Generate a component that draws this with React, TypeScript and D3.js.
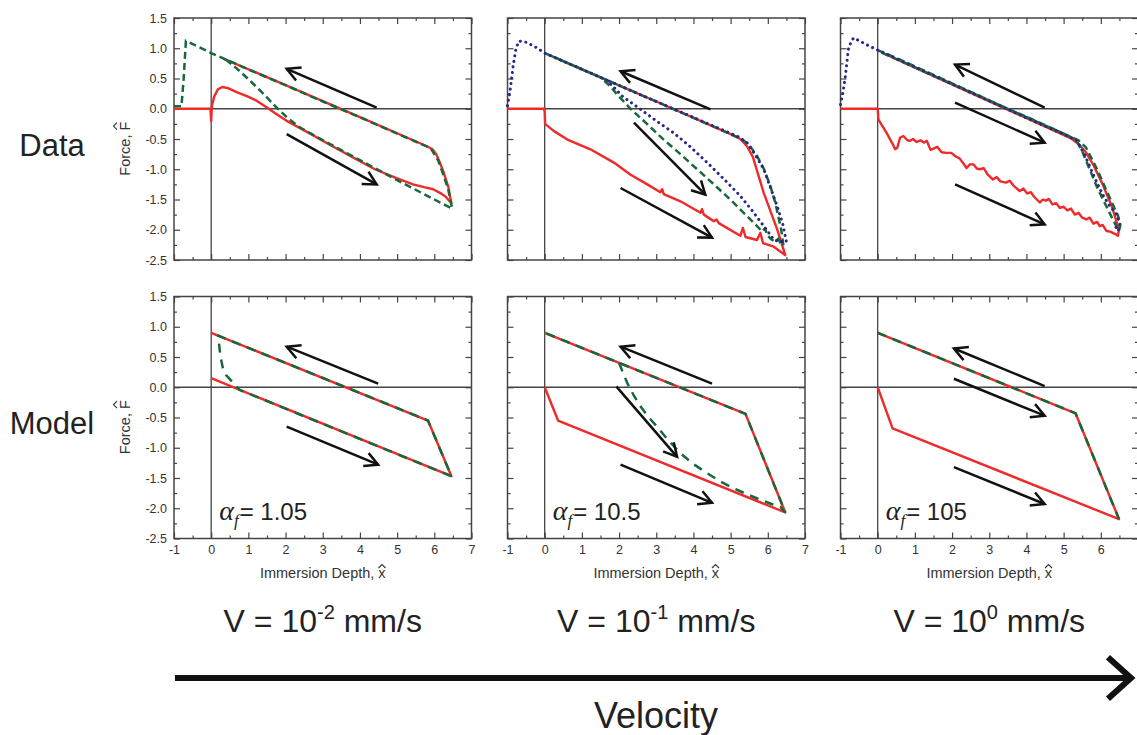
import React, { useRef, useEffect } from "react";
import * as d3 from "d3";

type Pt = [number, number];
type Arrow = [number, number, number, number];

const xTicks = [-1, 0, 1, 2, 3, 4, 5, 6, 7];
const yTicks = [-2.5, -2, -1.5, -1, -0.5, 0, 0.5, 1, 1.5];
const rowNames = ["Data", "Model"];
const speedExponents = ["-2", "-1", "0"];
const alphaValues = ["1.05", "10.5", "105"];

// ---- Data row, V = 1e-2 mm/s
const data1Red: Pt[] = [
  [-1, 0], [-0.02, 0], [0, -0.2], [0.02, 0.05], [0.08, 0.2], [0.18, 0.32], [0.3, 0.36], [0.45, 0.34],
  [0.7, 0.27], [0.96, 0.21], [1.23, 0.13], [1.5, 0.02], [1.76, -0.09], [2.03, -0.2], [2.6, -0.39],
  [3.2, -0.6], [3.8, -0.8], [4.4, -1.0], [5.0, -1.15], [5.43, -1.25], [5.75, -1.3], [5.97, -1.33],
  [6.15, -1.39], [6.3, -1.45], [6.46, -1.56], [6.38, -1.3], [6.25, -1.05], [6.15, -0.89],
  [6.05, -0.75], [5.95, -0.67], [5.8, -0.62], [4.0, -0.14], [2.0, 0.39], [0.33, 0.83],
];
const data1Green: Pt[] = [
  [-1, 0.04], [-0.8, 0.04], [-0.74, 0.5], [-0.68, 1.12], [-0.4, 1.04], [0, 0.92], [1, 0.65],
  [2, 0.39], [3, 0.12], [4, -0.14], [5, -0.41], [5.9, -0.65], [6.1, -0.85], [6.25, -1.1],
  [6.38, -1.35], [6.48, -1.65], [6, -1.5], [5, -1.18], [4, -0.85], [3, -0.52], [2.39, -0.31],
  [2.05, -0.15], [1.76, 0.02], [1.4, 0.25], [1.05, 0.46], [0.7, 0.66], [0.38, 0.82],
];
const data1Arrows: Arrow[] = [[4.45, 0.02, 2.03, 0.66], [2.03, -0.42, 4.45, -1.25]];

// ---- Data row, V = 1e-1 mm/s
const data2Red: Pt[] = [
  [-1, 0], [-0.02, 0], [0, -0.05], [0.01, -0.25], [0.25, -0.37], [0.61, -0.51], [1.23, -0.67],
  [1.86, -0.89], [2.31, -1.09], [2.76, -1.25], [3.11, -1.38], [3.16, -1.33], [3.2, -1.41],
  [3.65, -1.53], [4.19, -1.72], [4.23, -1.66], [4.28, -1.75], [4.55, -1.86], [4.62, -1.83],
  [4.68, -1.89], [5.26, -2.1], [5.33, -1.97], [5.4, -2.12], [5.71, -2.17], [5.8, -2.05],
  [5.87, -2.22], [6.16, -2.28], [6.47, -2.42], [6.25, -1.99], [5.89, -1.39], [5.6, -0.8],
  [5.44, -0.62], [5.26, -0.5], [5.0, -0.42], [3, 0.12], [1, 0.65], [0.3, 0.84],
];
const data2Green: Pt[] = [
  [0, 0.92], [1.5, 0.52], [1.75, 0.38], [2.0, 0.2], [2.31, 0.0], [2.75, -0.25], [3.2, -0.51],
  [3.65, -0.75], [4.1, -1.0], [4.55, -1.25], [4.99, -1.5], [5.35, -1.72], [5.71, -1.94],
  [5.85, -2.03], [5.92, -1.98], [6.0, -2.1], [6.1, -2.16], [6.2, -2.2], [6.28, -2.15],
  [6.34, -2.22], [6.42, -2.26], [6.36, -2.0], [6.2, -1.55], [6.07, -1.28], [5.9, -1.0],
  [5.71, -0.78], [5.5, -0.6], [5.3, -0.5], [3, 0.12], [0, 0.92],
];
const data2Navy: Pt[] = [
  [-1, 0.05], [-0.93, 0.3], [-0.85, 0.7], [-0.77, 1.0], [-0.69, 1.12], [-0.5, 1.1],
  [-0.25, 1.02], [0, 0.92], [1.68, 0.47], [2.1, 0.2], [2.58, -0.01], [3.0, -0.2], [3.47, -0.4],
  [3.9, -0.62], [4.37, -0.89], [4.8, -1.15], [5.26, -1.44], [5.6, -1.7], [5.89, -1.94],
  [6.16, -2.16], [6.3, -2.2], [6.43, -2.19], [6.5, -2.2], [6.4, -1.9], [6.25, -1.61],
  [6.07, -1.3], [5.89, -1.0], [5.65, -0.75], [5.44, -0.56], [5.2, -0.46], [3, 0.12], [1.68, 0.47],
];
const data2Arrows: Arrow[] = [
  [4.46, -0.01, 2.04, 0.62], [2.4, -0.23, 4.32, -1.42], [2.04, -1.31, 4.5, -2.13],
];

// ---- Data row, V = 1e0 mm/s
const data3Red: Pt[] = [
  [-1, 0], [0, 0], [0.02, -0.18], [0.24, -0.4], [0.4, -0.58], [0.47, -0.67], [0.53, -0.64],
  [0.6, -0.48], [0.69, -0.45], [0.8, -0.52], [0.87, -0.53], [0.95, -0.5], [1.05, -0.55],
  [1.15, -0.52], [1.25, -0.56], [1.32, -0.53], [1.42, -0.68], [1.5, -0.66], [1.6, -0.63],
  [1.72, -0.72], [1.85, -0.73], [1.98, -0.73], [2.1, -0.79], [2.2, -0.82], [2.3, -0.9],
  [2.39, -0.98], [2.48, -0.92], [2.58, -0.92], [2.67, -0.99], [2.75, -1.0], [2.85, -0.98],
  [2.95, -1.08], [3.1, -1.17], [3.2, -1.13], [3.3, -1.2], [3.45, -1.22], [3.55, -1.19],
  [3.65, -1.27], [3.82, -1.36], [3.92, -1.32], [4.02, -1.4], [4.12, -1.38], [4.2, -1.45],
  [4.36, -1.55], [4.44, -1.5], [4.52, -1.52], [4.6, -1.49], [4.7, -1.58], [4.8, -1.56],
  [4.9, -1.64], [5.0, -1.62], [5.1, -1.68], [5.2, -1.65], [5.3, -1.75], [5.4, -1.72],
  [5.5, -1.8], [5.61, -1.83], [5.7, -1.8], [5.8, -1.9], [5.9, -1.87], [5.97, -1.94],
  [6.05, -1.92], [6.15, -2.02], [6.25, -2.03], [6.35, -2.06], [6.42, -2.08], [6.46, -2.1],
  [6.49, -2.0], [6.3, -1.62], [6.05, -1.25], [5.8, -0.93], [5.6, -0.72], [5.43, -0.6],
  [5.2, -0.49], [3, 0.12], [1, 0.68], [0.1, 0.93],
];
const data3Green: Pt[] = [
  [0, 0.97], [0.5, 0.84], [1, 0.7], [1.5, 0.56], [2, 0.42], [2.5, 0.28], [3, 0.14], [3.5, 0.0],
  [4, -0.13], [4.5, -0.27], [5, -0.41], [5.34, -0.52], [5.5, -0.7], [5.7, -1.0], [5.9, -1.3],
  [6.1, -1.55], [6.3, -1.8], [6.45, -1.98], [6.48, -2.02], [6.52, -1.95], [6.47, -1.78],
  [6.35, -1.62], [6.15, -1.35], [5.9, -1.0], [5.6, -0.64], [5.4, -0.52], [4, -0.14], [2, 0.41],
  [0, 0.96],
];
const data3Navy: Pt[] = [
  [-1, 0.07], [-0.94, 0.25], [-0.88, 0.48], [-0.83, 0.75], [-0.79, 0.98], [-0.72, 1.1],
  [-0.65, 1.17], [-0.45, 1.11], [-0.3, 1.06], [0, 0.97], [1, 0.69], [2, 0.41], [3, 0.13],
  [4, -0.15], [5, -0.42], [5.36, -0.53], [5.58, -0.78], [5.82, -1.12], [6.05, -1.42],
  [6.25, -1.62], [6.4, -1.72], [6.52, -1.9], [6.47, -2.02], [6.4, -1.95],
];
const data3Arrows: Arrow[] = [
  [4.49, 0.02, 2.08, 0.73], [2.08, 0.1, 4.49, -0.56], [2.08, -1.25, 4.49, -1.91],
];

// ---- Model row
const model1Red: Pt[] = [[0, 0.15], [6.46, -1.47], [5.83, -0.55], [0, 0.9]];
const model1Green: Pt[] = [
  [0.21, 0.72], [0.25, 0.5], [0.31, 0.33], [0.4, 0.2], [0.55, 0.1], [0.75, -0.04],
  [6.46, -1.47], [5.83, -0.55], [0, 0.9],
];
const model1Arrows: Arrow[] = [[4.49, 0.06, 2.03, 0.67], [2.03, -0.65, 4.49, -1.28]];

const model2Red: Pt[] = [[0, 0], [0.36, -0.55], [6.47, -2.07], [5.4, -0.44], [0, 0.9]];
const model2Green: Pt[] = [
  [2.0, 0.4], [2.1, 0.25], [2.22, 0.07], [2.4, -0.14], [2.58, -0.32], [2.8, -0.5],
  [3.02, -0.65], [3.3, -0.86], [3.65, -1.09], [4.0, -1.27], [4.37, -1.42], [4.7, -1.55],
  [5.08, -1.67], [5.45, -1.77], [5.8, -1.86], [6.1, -1.93], [6.34, -1.98], [6.47, -2.07],
  [5.4, -0.44], [0, 0.9],
];
const model2Arrows: Arrow[] = [
  [4.5, 0.06, 2.04, 0.67], [1.93, 0.01, 3.56, -1.15], [2.04, -1.28, 4.5, -1.91],
];

const model3Red: Pt[] = [[0, 0], [0.4, -0.68], [6.49, -2.18], [5.32, -0.43], [0, 0.9]];
const model3Green: Pt[] = [[0, 0.9], [5.32, -0.43], [6.49, -2.18]];
const model3Arrows: Arrow[] = [
  [4.49, 0.02, 2.05, 0.64], [2.05, 0.14, 4.49, -0.47], [2.05, -1.32, 4.49, -1.93],
];

const panels = [
  { red: data1Red, green: data1Green, navy: null, arrows: data1Arrows },
  { red: data2Red, green: data2Green, navy: data2Navy, arrows: data2Arrows },
  { red: data3Red, green: data3Green, navy: data3Navy, arrows: data3Arrows },
  { red: model1Red, green: model1Green, navy: null, arrows: model1Arrows },
  { red: model2Red, green: model2Green, navy: null, arrows: model2Arrows },
  { red: model3Red, green: model3Green, navy: null, arrows: model3Arrows },
];

const SANS = "'Liberation Sans', Arial, Helvetica, sans-serif";
const SERIF = "'Liberation Serif', 'Times New Roman', serif";
const RED = "#ee2a2a";
const GREEN = "#17683a";
const NAVY = "#27288a";
const AXIS = "#444";

const colLeft = [174, 507.5, 840.5];
const rowTop = [18, 296.5];
const PW = 297.5;
const PH = 242;

function arrow(g: any, x1: number, y1: number, x2: number, y2: number, w: number, head: number, deg: number) {
  g.append("line")
    .attr("x1", x1).attr("y1", y1).attr("x2", x2).attr("y2", y2)
    .attr("stroke", "#111").attr("stroke-width", w);
  const ang = Math.atan2(y2 - y1, x2 - x1);
  const a = (deg * Math.PI) / 180;
  const p1 = [x2 - head * Math.cos(ang - a), y2 - head * Math.sin(ang - a)];
  const p2 = [x2 - head * Math.cos(ang + a), y2 - head * Math.sin(ang + a)];
  g.append("path")
    .attr("d", `M${p1[0]},${p1[1]}L${x2},${y2}L${p2[0]},${p2[1]}`)
    .attr("fill", "none").attr("stroke", "#111").attr("stroke-width", w)
    .attr("stroke-linejoin", "miter");
}

const App = () => {
  const ref = useRef<SVGSVGElement>(null);

  useEffect(() => {
    const svg = d3.select(ref.current);
    svg.selectAll("*").remove();

    panels.forEach((p, i) => {
      const col = i % 3;
      const row = Math.floor(i / 3);
      const x = d3.scaleLinear().domain([-1, 7]).range([colLeft[col], colLeft[col] + PW]);
      const y = d3.scaleLinear().domain([-2.5, 1.5]).range([rowTop[row] + PH, rowTop[row]]);
      const g = svg.append("g");

      // zero lines
      g.append("line").attr("x1", x(-1)).attr("x2", x(7)).attr("y1", y(0)).attr("y2", y(0))
        .attr("stroke", AXIS).attr("stroke-width", 1.3);
      g.append("line").attr("x1", x(0)).attr("x2", x(0)).attr("y1", y(-2.5)).attr("y2", y(1.5))
        .attr("stroke", AXIS).attr("stroke-width", 1.3);

      // axes, ticks pointing inward on all four sides
      const xMinor = d3.range(-0.5, 7, 1);
      const yMinor = d3.range(-2.25, 1.5, 0.5);
      const none = () => "";
      // the right-most panel is cut by the page edge, so its "7" is not shown
      const xFmt = (v: any) => (col === 2 && +v === 7 ? "" : String(v));
      const axes = [
        { ax: d3.axisBottom(x), t: `translate(0,${y(-2.5)})`, major: xTicks, minor: xMinor,
          fmt: row === 1 ? xFmt : none },
        { ax: d3.axisTop(x), t: `translate(0,${y(1.5)})`, major: xTicks, minor: xMinor, fmt: none },
        { ax: d3.axisLeft(y), t: `translate(${x(-1)},0)`, major: yTicks, minor: yMinor,
          fmt: col === 0 ? (v: any) => (+v).toFixed(1) : none },
        { ax: d3.axisRight(y), t: `translate(${x(7)},0)`, major: yTicks, minor: yMinor, fmt: none },
      ];
      axes.forEach((a) => {
        const gm = g.append("g").attr("transform", a.t)
          .call(a.ax.tickValues(a.major).tickSize(-6).tickPadding(7).tickFormat(a.fmt as any));
        gm.select(".domain").remove();
        gm.attr("color", AXIS).attr("font-family", SANS).attr("font-size", 12.5);
        gm.selectAll("line").attr("stroke-width", 1.2);
        gm.selectAll("text").attr("fill", "#333");
        const gn = g.append("g").attr("transform", a.t)
          .call(a.ax.tickValues(a.minor).tickSize(-3).tickFormat(none as any));
        gn.select(".domain").remove();
        gn.attr("color", AXIS);
        gn.selectAll("line").attr("stroke-width", 1.2);
      });

      g.append("rect").attr("x", x(-1)).attr("y", y(1.5)).attr("width", PW).attr("height", PH)
        .attr("fill", "none").attr("stroke", AXIS).attr("stroke-width", 1.5);

      // series
      const line = d3.line<Pt>().x((d) => x(d[0])).y((d) => y(d[1]));
      g.append("path").attr("d", line(p.red)).attr("fill", "none").attr("stroke", RED)
        .attr("stroke-width", 2.4).attr("stroke-linejoin", "round");
      g.append("path").attr("d", line(p.green)).attr("fill", "none").attr("stroke", GREEN)
        .attr("stroke-width", 2.5).attr("stroke-dasharray", row === 0 ? "7,4" : "9,7");
      if (p.navy) {
        g.append("path").attr("d", line(p.navy)).attr("fill", "none").attr("stroke", NAVY)
          .attr("stroke-width", 3).attr("stroke-linecap", "round").attr("stroke-dasharray", "0.1,5.5");
      }

      p.arrows.forEach((a) => arrow(g, x(a[0]), y(a[1]), x(a[2]), y(a[3]), 2.5, 15, 28));

      // y axis title
      if (col === 0) {
        const tg = g.append("g").attr("transform", `translate(${x(-1) - 44},${y(-0.66)}) rotate(-90)`);
        const t = tg.append("text").attr("x", 0).attr("y", 0).attr("text-anchor", "middle")
          .attr("font-family", SANS).attr("font-size", 14.5).attr("fill", "#333").text("Force, F");
        const len = (t.node() as SVGTextElement).getComputedTextLength();
        const fx = len / 2 - 4.4;
        tg.append("path").attr("d", `M${fx - 3.5},-13L${fx},-16.5L${fx + 3.5},-13`)
          .attr("fill", "none").attr("stroke", "#333").attr("stroke-width", 1.1);
      }
      if (row === 1) {
        const cx = (x(-1) + x(7)) / 2;
        const t = g.append("text").attr("x", cx).attr("y", 578).attr("text-anchor", "middle")
          .attr("font-family", SANS).attr("font-size", 14.5).attr("fill", "#333")
          .text("Immersion Depth, x");
        const len = (t.node() as SVGTextElement).getComputedTextLength();
        const hx = cx + len / 2 - 3.6;
        g.append("path").attr("d", `M${hx - 3.5},568L${hx},564.5L${hx + 3.5},568`)
          .attr("fill", "none").attr("stroke", "#333").attr("stroke-width", 1.1);

        const at = g.append("text").attr("x", x(0) + 8).attr("y", y(-2.2))
          .attr("fill", "#222");
        at.append("tspan").attr("font-family", SERIF).attr("font-style", "italic")
          .attr("font-size", 28).text("\u03b1");
        at.append("tspan").attr("font-family", SERIF).attr("font-style", "italic")
          .attr("font-size", 17).attr("dy", 6).text("f");
        at.append("tspan").attr("font-family", SANS).attr("font-size", 24).attr("dy", -6)
          .attr("dx", 1).text("= " + alphaValues[col]);
      }
    });

    // row names
    rowNames.forEach((n, r) => {
      svg.append("text").attr("x", 52).attr("y", r === 0 ? 156 : 434).attr("text-anchor", "middle")
        .attr("font-family", SANS).attr("font-size", 31).attr("fill", "#222").text(n);
    });

    // velocity labels
    speedExponents.forEach((e, c) => {
      const t = svg.append("text").attr("x", colLeft[c] + PW / 2).attr("y", 632)
        .attr("text-anchor", "middle").attr("font-family", SANS).attr("font-size", 32)
        .attr("fill", "#222");
      t.append("tspan").text("V = 10");
      t.append("tspan").attr("font-size", 20).attr("dy", -13).text(e);
      t.append("tspan").attr("dy", 13).text(" mm/s");
    });

    // velocity arrow
    arrow(svg, 175, 678, 1131, 678, 6, 31, 42);
    svg.append("text").attr("x", 656).attr("y", 728).attr("text-anchor", "middle")
      .attr("font-family", SANS).attr("font-size", 36).attr("fill", "#222").text("Velocity");

    return () => {
      d3.select(ref.current).selectAll("*").remove();
    };
  }, []);

  return (
    <svg
      ref={ref}
      width={1137}
      height={735}
      style={{ position: "absolute", left: 0, top: 0, background: "#fff" }}
    />
  );
};

export default App;
